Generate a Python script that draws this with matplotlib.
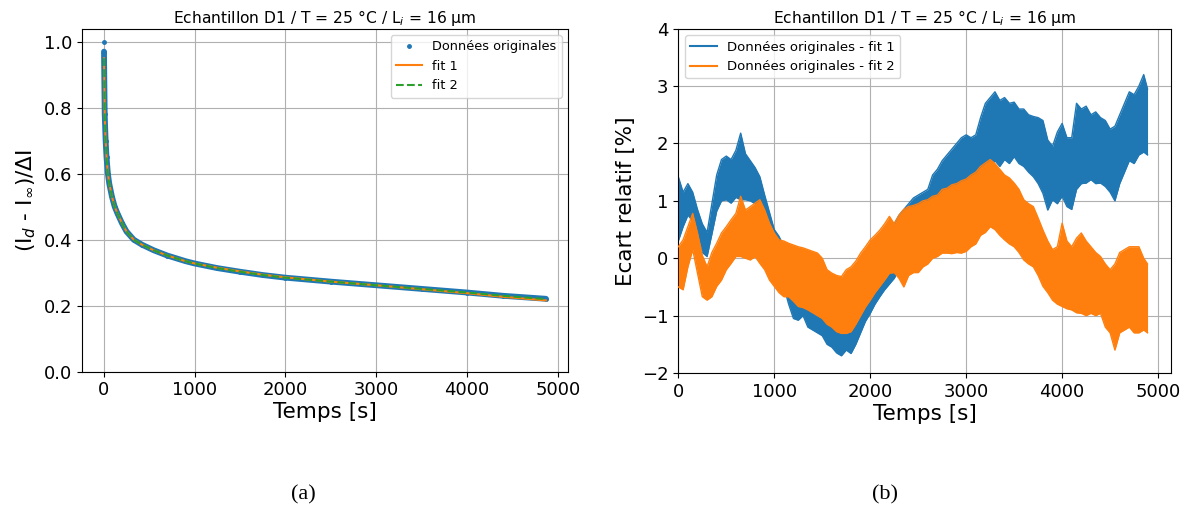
import matplotlib
matplotlib.use("Agg")
import matplotlib.pyplot as plt

# ---------------- data ----------------
# (a) normalised decay
t_data = [0, 2, 5, 10, 20, 30, 45, 60, 90, 120, 150, 200, 250, 330, 420, 550,
          700, 900, 1000, 1250, 1500, 1750, 2000, 2500, 3000, 3500, 4000, 4400, 4870]
y_data = [1.0, 0.97, 0.90, 0.78, 0.70, 0.65, 0.60, 0.57, 0.53, 0.50, 0.48, 0.45,
          0.425, 0.40, 0.385, 0.368, 0.352, 0.335, 0.328, 0.314, 0.303, 0.293,
          0.285, 0.273, 0.262, 0.251, 0.240, 0.230, 0.221]
y_fit1 = [0.97, 0.95, 0.89, 0.78, 0.70, 0.65, 0.60, 0.57, 0.53, 0.50, 0.48, 0.45,
          0.425, 0.40, 0.385, 0.368, 0.352, 0.335, 0.328, 0.315, 0.304, 0.294,
          0.286, 0.273, 0.262, 0.250, 0.238, 0.227, 0.216]
y_fit2 = [0.97, 0.95, 0.89, 0.78, 0.70, 0.65, 0.60, 0.57, 0.53, 0.50, 0.48, 0.45,
          0.425, 0.40, 0.385, 0.368, 0.352, 0.335, 0.328, 0.314, 0.303, 0.293,
          0.285, 0.273, 0.262, 0.251, 0.240, 0.230, 0.220]

# (b) relative deviation [%]: upper / lower edge of each noisy band, every 50 s
t_dev = list(range(0, 4900, 50)) + [4890]
fit1_hi = [1.42, 1.15, 1.3, 1.15, 0.85, 0.6, 0.45, 0.95, 1.45, 1.72,
           1.78, 1.72, 1.88, 2.18, 1.82, 1.7, 1.58, 1.42, 1.1, 0.8,
           0.5, 0.38, 0.2, 0.15, 0.1, 0.05, 0.0, -0.05, -0.1, -0.15,
           -0.3, -0.4, -0.5, -0.55, -0.55, -0.45, -0.4, -0.25, -0.15, 0.0,
           0.1, 0.2, 0.3, 0.4, 0.5, 0.6, 0.75, 0.85, 0.95, 1.05,
           1.1, 1.15, 1.2, 1.45, 1.55, 1.7, 1.8, 1.9, 2.0, 2.1,
           2.15, 2.1, 2.15, 2.45, 2.7, 2.8, 2.9, 2.75, 2.8, 2.7,
           2.72, 2.6, 2.6, 2.5, 2.47, 2.45, 2.4, 2.06, 1.95, 2.2,
           2.35, 2.1, 2.1, 2.7, 2.6, 2.65, 2.5, 2.55, 2.45, 2.4,
           2.25, 2.3, 2.5, 2.7, 2.9, 2.85, 3.0, 3.2,
           2.95]
fit1_lo = [0.3, 0.55, 0.75, 0.65, 0.42, 0.1, 0.03, 0.42, 0.82, 1.0,
           1.02, 0.96, 1.06, 1.02, 1.02, 1.0, 0.95, 0.82, 0.65, 0.42,
           0.25, -0.1, -0.5, -0.8, -1.05, -1.08, -1.0, -1.2, -1.25, -1.3,
           -1.35, -1.5, -1.55, -1.65, -1.7, -1.6, -1.66, -1.5, -1.3, -1.1,
           -0.96, -0.8, -0.67, -0.55, -0.45, -0.35, -0.2, -0.1, 0.0, 0.1,
           0.2, 0.3, 0.4, 0.55, 0.65, 0.75, 0.85, 0.95, 1.0, 1.1,
           1.15, 1.25, 1.35, 1.45, 1.5, 1.6, 1.7, 1.6, 1.72, 1.65,
           1.77, 1.65, 1.6, 1.5, 1.42, 1.3, 1.13, 0.84, 1.02, 0.95,
           1.08, 0.9, 0.85, 1.2, 1.3, 1.31, 1.37, 1.3, 1.31, 1.25,
           1.15, 1.0, 1.3, 1.5, 1.7, 1.65, 1.8, 1.85,
           1.8]
fit2_hi = [0.2, 0.32, 0.55, 0.78, 0.44, 0.05, -0.15, 0.1, 0.26, 0.44,
           0.55, 0.67, 0.78, 1.08, 0.84, 0.9, 0.96, 1.02, 0.84, 0.61,
           0.44, 0.32, 0.3, 0.26, 0.23, 0.2, 0.18, 0.15, 0.12, 0.09,
           0.0, -0.2, -0.26, -0.3, -0.32, -0.2, -0.15, -0.05, 0.09, 0.2,
           0.32, 0.4, 0.49, 0.6, 0.73, 0.6, 0.75, 0.85, 0.9, 0.92,
           0.95, 1.0, 1.02, 1.08, 1.1, 1.2, 1.22, 1.28, 1.3, 1.35,
           1.38, 1.45, 1.5, 1.6, 1.66, 1.72, 1.65, 1.55, 1.45, 1.4,
           1.31, 1.2, 1.02, 0.95, 0.9, 0.7, 0.49, 0.3, 0.15, 0.2,
           0.61, 0.3, 0.2, 0.35, 0.44, 0.3, 0.2, 0.1, 0.03, -0.1,
           -0.2, -0.1, 0.1, 0.15, 0.2, 0.2, 0.2, 0.0,
           -0.1]
fit2_lo = [-0.5, -0.55, -0.15, 0.15, -0.26, -0.67, -0.73, -0.67, -0.49, -0.38,
           -0.2, -0.09, 0.03, 0.03, 0.0, -0.03, 0.03, -0.09, -0.2, -0.38,
           -0.49, -0.6, -0.67, -0.67, -0.75, -0.84, -0.86, -0.9, -0.95, -1.0,
           -1.05, -1.15, -1.2, -1.28, -1.31, -1.31, -1.28, -1.15, -1.0, -0.85,
           -0.73, -0.6, -0.49, -0.38, -0.26, -0.25, -0.35, -0.5, -0.3, -0.25,
           -0.25, -0.15, -0.1, 0.0, 0.03, 0.09, 0.09, 0.08, 0.1, 0.09,
           0.12, 0.2, 0.25, 0.4, 0.45, 0.55, 0.5, 0.4, 0.32, 0.25,
           0.2, 0.1, -0.03, -0.1, -0.15, -0.3, -0.49, -0.6, -0.73, -0.8,
           -0.84, -0.88, -0.9, -0.95, -0.96, -1.0, -0.96, -1.0, -0.96, -1.2,
           -1.3, -1.6, -1.3, -1.25, -1.2, -1.3, -1.3, -1.25,
           -1.3]

title = "Echantillon D1 / T = 25 °C / L$_i$ = 16 µm"
xticks = [0, 1000, 2000, 3000, 4000, 5000]
yticks_a = [0.0, 0.2, 0.4, 0.6, 0.8, 1.0]
yticks_b = [-2, -1, 0, 1, 2, 3, 4]

# ---------------- figure ----------------
W, H = 1189, 519
fig = plt.figure(figsize=(W / 100, H / 100), dpi=100)

def frac(x0, x1, ytop, ybot):
    return [x0 / W, 1 - ybot / H, (x1 - x0) / W, (ybot - ytop) / H]

ax1 = fig.add_axes(frac(81.7, 568, 28.8, 371.7))
ax2 = fig.add_axes(frac(678.3, 1171, 28.7, 373))

C0, C1, C2 = "#1f77b4", "#ff7f0e", "#2ca02c"

# (a)
ax1.plot(t_data[1:], y_data[1:], "-", color=C0, lw=4.2, solid_capstyle="round", zorder=2)
ax1.plot(t_data, y_data, ".", color=C0, ms=5, label="Données originales", zorder=2)
ax1.plot(t_data[1:], y_fit1[1:], "-", color=C1, lw=1.5, label="fit 1", zorder=3)
ax1.plot(t_data[1:], y_fit2[1:], "--", color=C2, lw=1.5, label="fit 2", zorder=4)
ax1.set_ylim(bottom=0)
ax1.set_xticks(xticks)
ax1.set_yticks(yticks_a)
ax1.grid(True, color="#b0b0b0", lw=0.8)
ax1.set_xlabel("Temps [s]", fontsize=15.5, labelpad=2)
ax1.set_ylabel(r"(I$_d$ - I$_\infty$)/ΔI", fontsize=15.5)
ax1.set_title(title, fontsize=11.2, pad=4)
ax1.tick_params(labelsize=13)
ax1.legend(loc="upper right", fontsize=9.3)

# (b)
ax2.fill_between(t_dev, fit1_lo, fit1_hi, color=C0, lw=0, zorder=2)
ax2.plot(t_dev, fit1_hi, color=C0, lw=1.0, label="Données originales - fit 1", zorder=2)
ax2.plot(t_dev, fit1_lo, color=C0, lw=1.0, zorder=2)
ax2.fill_between(t_dev, fit2_lo, fit2_hi, color=C1, lw=0, zorder=3)
ax2.plot(t_dev, fit2_hi, color=C1, lw=1.0, label="Données originales - fit 2", zorder=3)
ax2.plot(t_dev, fit2_lo, color=C1, lw=1.0, zorder=3)
ax2.set_xlim(left=0)
ax2.set_ylim(-2, 4)
ax2.set_xticks(xticks)
ax2.set_yticks(yticks_b)
ax2.grid(True, color="#b0b0b0", lw=0.8)
ax2.set_xlabel("Temps [s]", fontsize=15.5, labelpad=2)
ax2.set_ylabel("Ecart relatif [%]", fontsize=15.5)
ax2.set_title(title, fontsize=11.2, pad=4)
ax2.tick_params(labelsize=13)
leg = ax2.legend(loc="upper left", fontsize=9.5)
for h in leg.get_lines():
    h.set_linewidth(1.5)

fig.text(303 / W, 1 - 495 / H, "(a)", family="Liberation Serif", fontsize=16,
         ha="center", va="center")
fig.text(885 / W, 1 - 495 / H, "(b)", family="Liberation Serif", fontsize=16,
         ha="center", va="center")

fig.savefig("out.png", dpi=100)
